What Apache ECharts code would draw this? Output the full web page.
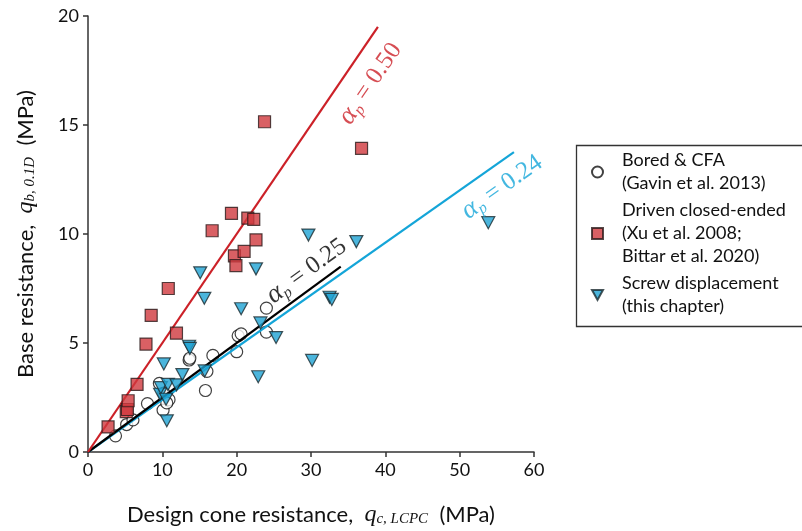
<!DOCTYPE html>
<html>
<head>
<meta charset="utf-8">
<script src="https://cdn.jsdelivr.net/npm/echarts@6/dist/echarts.min.js"></script>
<style>
  html, body { margin: 0; padding: 0; background: #fff; }
  #chart { width: 802px; height: 531px; }
</style>
</head>
<body>
<div id="chart"></div>
<script>
// Measured pile base resistance vs design cone resistance (MPa): [q_c,LCPC, q_b,0.1D]
const boredCFA = [
  [3.7, 0.74], [5.2, 1.26], [6.05, 1.47], [8.0, 2.22], [9.6, 3.15], [10.1, 1.92],
  [10.2, 2.7], [10.9, 2.4], [10.6, 2.25], [13.6, 4.22], [13.7, 4.3], [15.8, 2.82],
  [16.0, 3.7], [16.8, 4.43], [20.0, 4.6], [20.2, 5.33], [20.6, 5.42], [24.0, 6.6],
  [24.0, 5.5]
];
const drivenClosed = [
  [2.7, 1.15], [5.15, 1.85], [5.3, 1.95], [5.4, 2.35], [6.6, 3.1], [7.8, 4.95],
  [8.5, 6.27], [10.8, 7.5], [11.9, 5.45], [16.7, 10.15], [19.3, 10.95], [19.7, 9.0],
  [19.9, 8.55], [21.0, 9.2], [21.5, 10.73], [22.3, 10.67], [22.6, 9.73], [23.75, 15.15],
  [36.8, 13.93]
];
const screwDisp = [
  [9.7, 2.65], [9.8, 2.95], [10.2, 4.04], [10.6, 1.43], [10.5, 2.42], [10.75, 3.1],
  [11.9, 3.08], [12.7, 3.55], [13.6, 4.85], [13.7, 4.75], [15.1, 8.22], [15.65, 7.05],
  [15.7, 3.72], [20.6, 6.57], [22.6, 8.4], [22.9, 3.45], [23.2, 5.92], [25.3, 5.25],
  [29.65, 9.95], [30.15, 4.2], [32.5, 7.1], [32.8, 7.0], [36.1, 9.65], [53.85, 10.52]
];

// Base resistance factors alpha_p and the q_c extent of each proportional line
const alphaDriven = 0.50, xEndDriven = 39;
const alphaBored = 0.25, xEndBored = 34;
const alphaScrew = 0.24, xEndScrew = 57.3;

const xTicks = [0, 10, 20, 30, 40, 50, 60];
const yTicks = [0, 5, 10, 15, 20];

const RED = '#cc2128';
const BLUE = '#14a5d8';
const SQUARE_FILL = '#d0383d';
const TRI_FILL = '#1ea3d3';
const SANS = 'Lato';
const SERIF = 'Liberation Serif';

const chart = echarts.init(document.getElementById('chart'), null, { renderer: 'canvas' });

const alphaRich = (color) => ({
  a: { fontFamily: SERIF, fontStyle: 'italic', fontSize: 27, color },
  p: { fontFamily: SERIF, fontStyle: 'italic', fontSize: 16, color, padding: [13, 0, 0, 0] },
  t: { fontFamily: SERIF, fontSize: 25, color }
});

const mathRich = {
  m: { fontFamily: SERIF, fontStyle: 'italic', fontSize: 24, color: '#111' },
  s: { fontFamily: SERIF, fontStyle: 'italic', fontSize: 15, color: '#111', padding: [10, 0, 0, 0] },
  n: { fontFamily: SANS, fontSize: 22, color: '#111' }
};

const option = {
  backgroundColor: '#fff',
  animation: false,
  grid: { left: 88, right: 268, top: 16, bottom: 79, containLabel: false, outerBoundsMode: 'none' },
  xAxis: {
    type: 'value', min: xTicks[0], max: xTicks[xTicks.length - 1], interval: 10,
    splitLine: { show: false },
    axisLine: { lineStyle: { color: '#333', width: 1.5 } },
    axisTick: { length: 5, lineStyle: { color: '#333', width: 1.5 } },
    axisLabel: { fontFamily: SANS, fontSize: 18, color: '#111', margin: 9 },
    name: '{n|Design cone resistance,  }{m|q}{s|c, LCPC}{n|  (MPa)}',
    nameLocation: 'middle', nameGap: 50,
    nameTextStyle: { rich: mathRich }
  },
  yAxis: {
    type: 'value', min: yTicks[0], max: yTicks[yTicks.length - 1], interval: 5,
    splitLine: { show: false },
    axisLine: { show: true, lineStyle: { color: '#333', width: 1.5 } },
    axisTick: { show: true, length: 5, lineStyle: { color: '#333', width: 1.5 } },
    axisLabel: { fontFamily: SANS, fontSize: 18, color: '#111', margin: 9 },
    name: '{n|Base resistance,  }{m|q}{s|b, 0.1D}{n|  (MPa)}',
    nameLocation: 'middle', nameGap: 50,
    nameTextStyle: { rich: mathRich }
  },
  legend: {
    orient: 'vertical', left: 586, top: 144,
    itemGap: 4, itemWidth: 11, itemHeight: 11,
    textStyle: { fontFamily: SANS, fontSize: 18, color: '#111', lineHeight: 23, padding: [0, 0, 0, 14] },
    data: [
      { name: 'Bored & CFA\n(Gavin et al. 2013)', icon: 'circle' },
      { name: 'Driven closed-ended\n(Xu et al. 2008;\nBittar et al. 2020)', icon: 'rect' },
      { name: 'Screw displacement\n(this chapter)', icon: 'path://M0,0 L10,0 L5,9 Z' }
    ]
  },
  graphic: [{
    type: 'rect', left: 574, top: 143, silent: true,
    shape: { width: 260, height: 181 },
    style: { fill: 'none', stroke: '#333', lineWidth: 1.3 }
  }],
  series: [
    {
      name: 'Bored & CFA\n(Gavin et al. 2013)', type: 'scatter', data: boredCFA,
      symbol: 'circle', symbolSize: 12, z: 2,
      itemStyle: { color: '#fff', borderColor: '#111', borderWidth: 1.2 }
    },
    {
      name: 'screwFit', type: 'line', z: 3, silent: true, symbol: 'none',
      data: [[0, 0], [xEndScrew, alphaScrew * xEndScrew]],
      lineStyle: { color: BLUE, width: 2.2 }
    },
    {
      name: 'boredFit', type: 'line', z: 3, silent: true, symbol: 'none',
      data: [[0, 0], [xEndBored, alphaBored * xEndBored]],
      lineStyle: { color: '#000', width: 2.2 }
    },
    {
      name: 'drivenFit', type: 'line', z: 3, silent: true, symbol: 'none',
      data: [[0, 0], [xEndDriven, alphaDriven * xEndDriven]],
      lineStyle: { color: RED, width: 2.2 }
    },
    {
      name: 'Driven closed-ended\n(Xu et al. 2008;\nBittar et al. 2020)', type: 'scatter',
      data: drivenClosed, symbol: 'rect', symbolSize: 12, z: 4,
      itemStyle: { color: SQUARE_FILL, borderColor: '#2a1a1a', borderWidth: 1.2 }
    },
    {
      name: 'Screw displacement\n(this chapter)', type: 'scatter', data: screwDisp,
      symbol: 'triangle', symbolRotate: 180, symbolSize: [13, 12], z: 4,
      itemStyle: { color: TRI_FILL, borderColor: '#1a2a30', borderWidth: 1.2 }
    },
    {
      name: 'alphaLabels', type: 'scatter', silent: true, z: 5,
      symbolSize: 1, itemStyle: { color: 'transparent' },
      data: [
        {
          value: [38.0, 16.9],
          label: { show: true, position: 'inside', rotate: 55.7,
            formatter: '{a|α}{p|p}{t| = 0.50}', rich: alphaRich(RED) }
        },
        {
          value: [55.7, 12.15],
          label: { show: true, position: 'inside', rotate: 35.1,
            formatter: '{a|α}{p|p}{t| = 0.24}', rich: alphaRich(BLUE) }
        },
        {
          value: [29.4, 8.3],
          label: { show: true, position: 'inside', rotate: 36.2,
            formatter: '{a|α}{p|p}{t| = 0.25}', rich: alphaRich('#000') }
        }
      ]
    }
  ]
};

chart.setOption(option);
</script>
</body>
</html>
